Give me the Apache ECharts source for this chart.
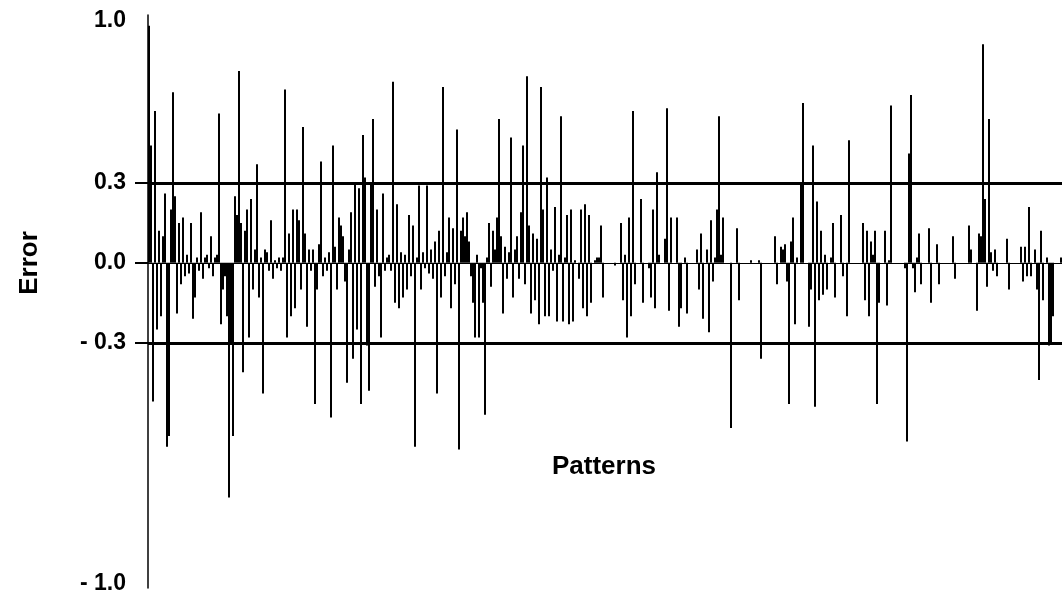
<!DOCTYPE html>
<html>
<head>
<meta charset="utf-8">
<script src="https://cdn.jsdelivr.net/npm/echarts@6/dist/echarts.min.js"></script>
<style>
html,body{margin:0;padding:0;background:#fff;}
#chart{width:1062px;height:600px;}
</style>
</head>
<body>
<div id="chart"></div>
<script>
// Error per pattern (in the units of the ±0.3 band)
const errors = [
 0.89, 0.44,-0.52, 0.57,-0.25, 0.12,-0.20, 0.10, 0.26,-0.69,
-0.65, 0.20, 0.64, 0.25,-0.19, 0.15,-0.08, 0.17,-0.05, 0.03,
-0.04, 0.15,-0.21,-0.13, 0.02,-0.03, 0.19,-0.06, 0.02, 0.03,
-0.02, 0.10,-0.05, 0.02, 0.03, 0.56,-0.23,-0.10,-0.05,-0.20,
-0.88,-0.30,-0.65, 0.25, 0.18, 0.72, 0.15,-0.41, 0.12, 0.20,
-0.28, 0.24,-0.10, 0.05, 0.37,-0.13, 0.02,-0.49, 0.05, 0.04,
-0.03, 0.16,-0.06, 0.01,-0.02, 0.02,-0.03, 0.02, 0.65,-0.28,
 0.11,-0.20, 0.20,-0.17, 0.20, 0.16,-0.10, 0.51, 0.11,-0.24,
 0.05,-0.03, 0.05,-0.53,-0.10, 0.07, 0.38,-0.05, 0.02,-0.03,
 0.04,-0.58, 0.44, 0.06,-0.10, 0.17, 0.14, 0.10,-0.07,-0.45,
 0.05, 0.19,-0.36, 0.30,-0.25, 0.28,-0.53, 0.48, 0.32,-0.31,
-0.48, 0.30, 0.54,-0.09, 0.20,-0.05,-0.28, 0.26,-0.03, 0.02,
 0.03,-0.03, 0.68,-0.15, 0.22,-0.17, 0.04,-0.13, 0.03,-0.10,
 0.18,-0.05, 0.14,-0.69, 0.02, 0.29,-0.10, 0.04,-0.02, 0.29,
-0.04, 0.05,-0.06, 0.08,-0.49, 0.12,-0.13, 0.66,-0.05, 0.04,
 0.17,-0.17, 0.13,-0.08, 0.50,-0.70, 0.12, 0.17, 0.10, 0.19,
 0.08,-0.05,-0.15,-0.28, 0.03,-0.28,-0.02,-0.15,-0.57, 0.02,
 0.15,-0.09, 0.12, 0.05, 0.17, 0.54, 0.10,-0.19, 0.06,-0.06,
 0.04, 0.47,-0.13, 0.05, 0.10,-0.06, 0.19, 0.44,-0.08, 0.70,
 0.14,-0.19, 0.11,-0.14, 0.09,-0.23, 0.66, 0.20,-0.20, 0.32,
-0.20, 0.05,-0.03, 0.21,-0.22, 0.03, 0.55,-0.22, 0.02, 0.18,
-0.23, 0.20,-0.22, 0.01, 0.00,-0.06, 0.20,-0.17, 0.22,-0.20,
 0.18,-0.15, 0.00, 0.01, 0.02, 0.02, 0.14,-0.13, 0.00, 0.00,
 0.00, 0.00, 0.00,-0.01, 0.00, 0.00, 0.15,-0.14, 0.03,-0.28,
 0.17,-0.20, 0.57,-0.08, 0.00, 0.00, 0.24,-0.15, 0.00, 0.00,
-0.02,-0.13, 0.20,-0.17, 0.34, 0.03, 0.00, 0.00, 0.09, 0.58,
-0.18, 0.17, 0.00, 0.00, 0.17,-0.24,-0.17, 0.00, 0.02,-0.19,
 0.00, 0.00, 0.00, 0.00, 0.05,-0.10, 0.11,-0.21, 0.00, 0.05,
-0.26, 0.16,-0.07, 0.02, 0.20, 0.55, 0.03, 0.17, 0.00, 0.00,
 0.00,-0.62, 0.00, 0.00, 0.13,-0.14, 0.00, 0.00, 0.00, 0.00,
 0.00, 0.01, 0.00, 0.00, 0.00, 0.01,-0.36, 0.00, 0.00, 0.00,
 0.00, 0.00, 0.00, 0.10,-0.08, 0.00, 0.06, 0.05, 0.07,-0.07,
-0.53, 0.08, 0.17,-0.23, 0.02, 0.00, 0.30, 0.60, 0.00, 0.00,
-0.24,-0.10, 0.44,-0.54, 0.23,-0.14, 0.12,-0.12, 0.03,-0.10,
 0.00, 0.02, 0.15,-0.13, 0.00, 0.00, 0.18,-0.05, 0.00,-0.20,
 0.46, 0.00, 0.00, 0.00, 0.00, 0.00, 0.00, 0.15,-0.14, 0.12,
-0.20, 0.08, 0.03, 0.12,-0.53,-0.15, 0.00, 0.00, 0.12,-0.16,
 0.01, 0.59, 0.00, 0.00, 0.00, 0.00, 0.00, 0.00,-0.02,-0.67,
 0.41, 0.63,-0.02,-0.11, 0.02, 0.11,-0.08, 0.00, 0.00, 0.00,
 0.13,-0.15, 0.00, 0.00, 0.07,-0.08, 0.00, 0.00, 0.00, 0.00,
 0.00, 0.00, 0.10,-0.06, 0.00, 0.00, 0.00, 0.00, 0.00, 0.00,
 0.14, 0.05, 0.00, 0.00,-0.18, 0.11, 0.10, 0.82, 0.24,-0.09,
 0.54, 0.04,-0.03, 0.05,-0.05, 0.00, 0.00, 0.00, 0.00, 0.09,
-0.10, 0.00, 0.00, 0.00, 0.00, 0.00, 0.06,-0.07, 0.06,-0.05,
 0.21,-0.05, 0.00, 0.05,-0.10,-0.44, 0.12,-0.14, 0.00, 0.02,
-0.31,-0.30,-0.20, 0.00, 0.00, 0.00, 0.02
];
const patterns = errors.map((_, i) => String(i + 1));
const bandLimits = [0.3, -0.3];
const tickValues = [0.3, 0, -0.3];
const axisMin = -1.22;
const axisMax = 0.93;
const endLabels = {top: '1.0', bottom: '- 1.0'};
const xTitle = 'Patterns';
const yTitle = 'Error';

const chart = echarts.init(document.getElementById('chart'));
const font = '"Liberation Sans", Arial, sans-serif';
chart.setOption({
  animation: false,
  backgroundColor: '#fff',
  grid: {left: 148, right: 0, top: 15, bottom: 12, containLabel: false, outerBoundsMode: 'none'},
  graphic: [
    {type: 'text', x: 604, y: 467, style: {text: xTitle, fontFamily: font, fontWeight: 'bold', fontSize: 26, fill: '#000', align: 'center', verticalAlign: 'middle'}},
    {type: 'text', x: 30, y: 263, rotation: Math.PI / 2, style: {text: yTitle, fontFamily: font, fontWeight: 'bold', fontSize: 26, fill: '#000', align: 'center', verticalAlign: 'middle'}}
  ],
  xAxis: {
    type: 'category',
    data: patterns,
    axisLine: {onZero: true, lineStyle: {color: '#000', width: 1.2}},
    axisTick: {show: false},
    axisLabel: {show: false},
    splitLine: {show: false}
  },
  yAxis: {
    type: 'value',
    min: axisMin,
    max: axisMax,
    axisLine: {show: true, lineStyle: {color: '#000', width: 1.5}},
    axisTick: {show: true, customValues: tickValues, length: 13, lineStyle: {color: '#000', width: 2}},
    axisLabel: {
      customValues: [axisMax, 0.3, 0, -0.3, axisMin],
      margin: 22,
      fontFamily: font, fontWeight: 'bold', fontSize: 23, color: '#000',
      formatter: function (v) {
        if (v >= axisMax - 1e-6) return '{top|' + endLabels.top + '}';
        if (v <= axisMin + 1e-6) return '{bot|' + endLabels.bottom + '}';
        if (v < 0) return '- ' + Math.abs(v).toFixed(1);
        return v.toFixed(1);
      },
      rich: {
        top: {fontFamily: font, fontWeight: 'bold', fontSize: 23, color: '#000', padding: [12, 0, 0, 0]},
        bot: {fontFamily: font, fontWeight: 'bold', fontSize: 23, color: '#000', padding: [0, 0, 8, 0]}
      }
    },
    splitLine: {show: false}
  },
  series: [{
    type: 'bar',
    data: errors,
    barWidth: 2,
    itemStyle: {color: '#000'},
    silent: true,
    markLine: {
      silent: true,
      symbol: ['none', 'none'],
      label: {show: false},
      lineStyle: {color: '#000', width: 3, type: 'solid'},
      data: bandLimits.map(v => ({yAxis: v}))
    }
  }]
});
</script>
</body>
</html>
